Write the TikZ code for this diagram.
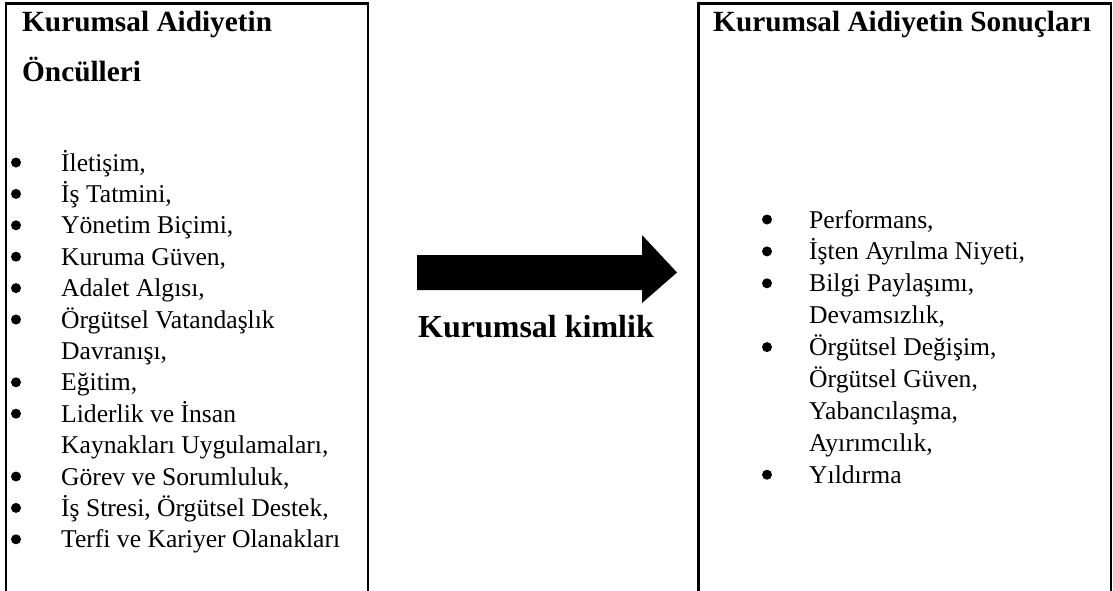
\documentclass[tikz,border=0pt]{standalone}
\usepackage{fontspec}
\setmainfont{Liberation Serif}
\usetikzlibrary{calc}
\begin{document}
\begin{tikzpicture}[x=1pt, y=-1pt, line width=2.4pt,
    head/.style={anchor=base west, inner sep=0pt, font=\fontsize{29.3}{34}\selectfont\bfseries},
    item/.style={anchor=base west, inner sep=0pt, font=\fontsize{25.6}{30}\selectfont}]
  \useasboundingbox (0,0) rectangle (1113,591);

  % --- Left panel: antecedents ---
  \draw (6,591) -- (6,3.5) -- (368,3.5) -- (368,591);
  \node[head] (lhead1) at (21,32) {Kurumsal Aidiyetin};
  \node[head] (lhead2) at (21,82) {Öncülleri};

  \node[item] (l1)  at (60,171)   {İletişim,};
  \node[item] (l2)  at (60,202.4) {İş Tatmini,};
  \node[item] (l3)  at (60,233.8) {Yönetim Biçimi,};
  \node[item] (l4)  at (60,265.2) {Kuruma Güven,};
  \node[item] (l5)  at (60,296.6) {Adalet Algısı,};
  \node[item] (l6)  at (60,328)   {Örgütsel Vatandaşlık};
  \node[item] (l7)  at (60,359.4) {Davranışı,};
  \node[item] (l8)  at (60,390.8) {Eğitim,};
  \node[item] (l9)  at (60,422.2) {Liderlik ve İnsan};
  \node[item] (l10) at (60,453.6) {Kaynakları Uygulamaları,};
  \node[item] (l11) at (60,485)   {Görev ve Sorumluluk,};
  \node[item] (l12) at (60,516.4) {İş Stresi, Örgütsel Destek,};
  \node[item] (l13) at (60,547.8) {Terfi ve Kariyer Olanakları};

  % bullets
  \fill (16,162.5) circle (5);
  \fill (16,193.9) circle (5);
  \fill (16,225.3) circle (5);
  \fill (16,256.7) circle (5);
  \fill (16,288.1) circle (5);
  \fill (16,319.5) circle (5);
  \fill (16,382.3) circle (5);
  \fill (16,413.7) circle (5);
  \fill (16,476.5) circle (5);
  \fill (16,507.9) circle (5);
  \fill (16,539.3) circle (5);

  % --- Arrow between panels ---
  \coordinate (tail) at (417,272.5);
  \coordinate (tip) at (677,272.5);
  \fill ($(tail)+(0,-17.5)$) -- (642,255) -- (642,235) -- (tip)
    -- (642,303) -- (642,290) -- ($(tail)+(0,17.5)$) -- cycle;
  \node[anchor=base west, inner sep=0pt, font=\fontsize{32}{36}\selectfont\bfseries]
    (idlabel) at (417,337) {Kurumsal kimlik};

  % --- Right panel: outcomes ---
  \draw (698.5,591) -- (698.5,3.5) -- (1111,3.5) -- (1111,591);
  \node[head] (rhead) at (712,32) {Kurumsal Aidiyetin Sonuçları};

  \node[item] (r1) at (808,228)   {Performans,};
  \node[item] (r2) at (808,259.9) {İşten Ayrılma Niyeti,};
  \node[item] (r3) at (808,291.8) {Bilgi Paylaşımı,};
  \node[item] (r4) at (808,323.7) {Devamsızlık,};
  \node[item] (r5) at (808,355.6) {Örgütsel Değişim,};
  \node[item] (r6) at (808,387.5) {Örgütsel Güven,};
  \node[item] (r7) at (808,419.4) {Yabancılaşma,};
  \node[item] (r8) at (808,451.3) {Ayırımcılık,};
  \node[item] (r9) at (808,483.2) {Yıldırma};

  \fill (767,219.5) circle (5);
  \fill (767,251.4) circle (5);
  \fill (767,283.3) circle (5);
  \fill (767,347.1) circle (5);
  \fill (767,474.7) circle (5);
\end{tikzpicture}
\end{document}
